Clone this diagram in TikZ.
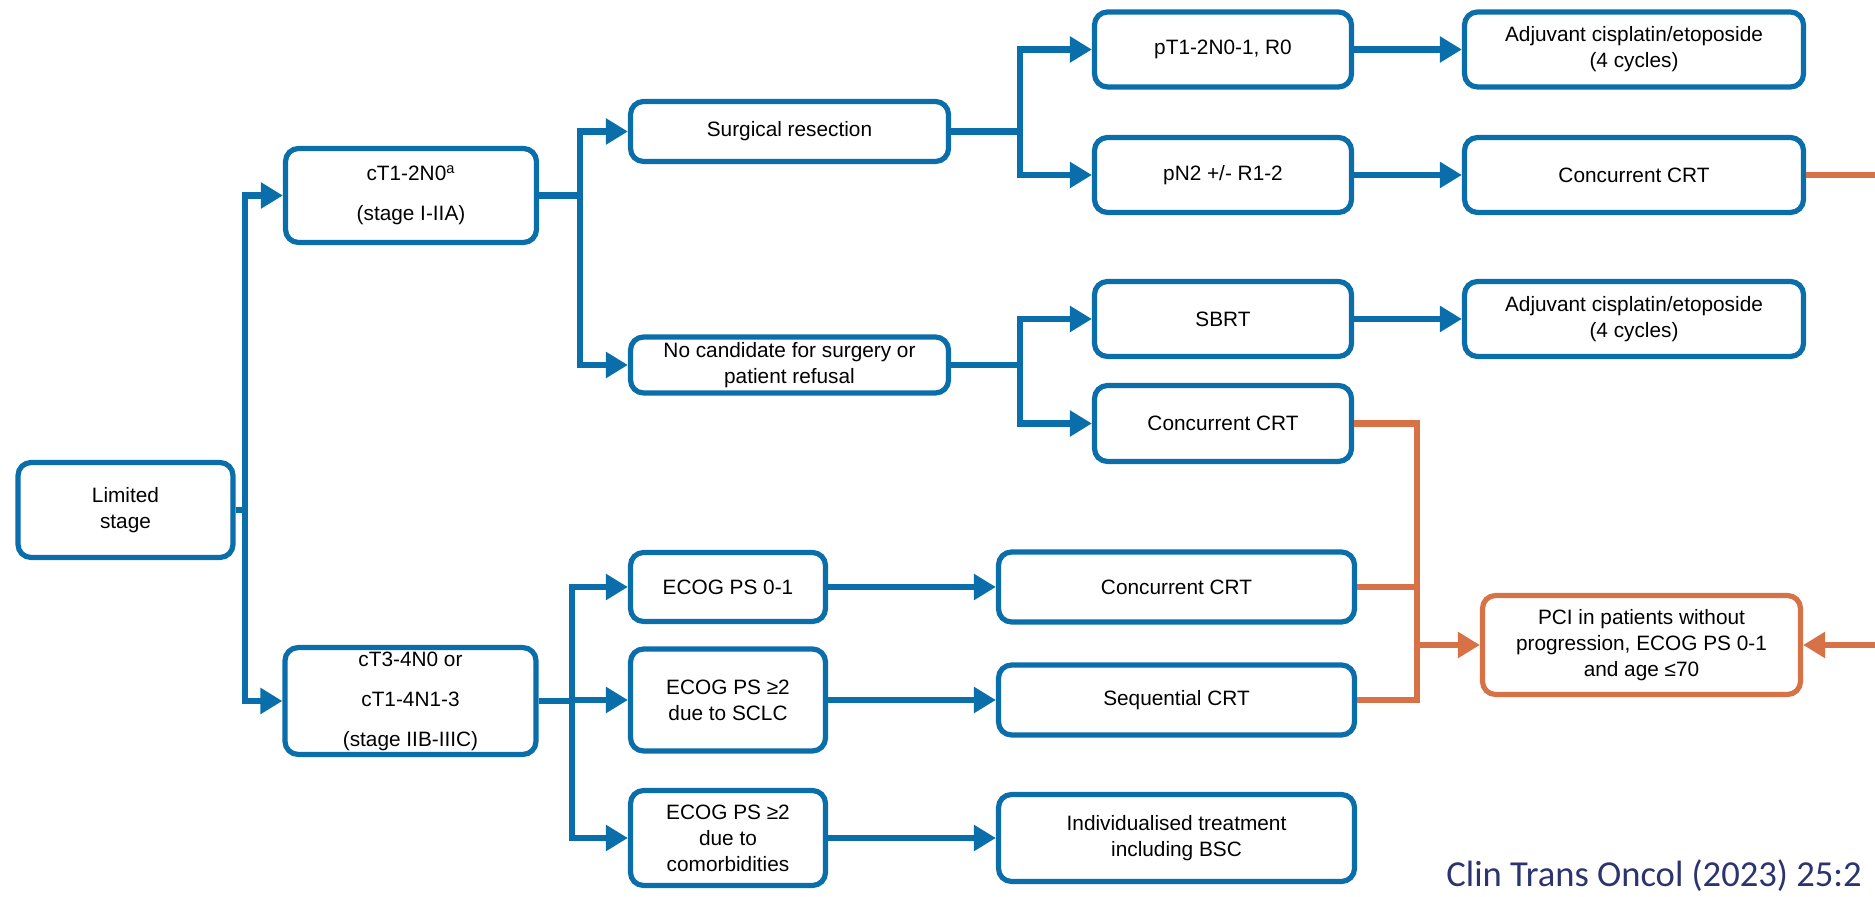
\documentclass[tikz,border=0pt]{standalone}
\usepackage{fontspec}
\setmainfont{Liberation Sans}
\newfontfamily\citefont{Carlito}
\usepackage{xcolor}
\usetikzlibrary{arrows.meta}
\definecolor{sclcblue}{HTML}{0A6EAA}
\definecolor{sclcorange}{HTML}{D67245}
\definecolor{sclcnavy}{HTML}{2C3470}

\begin{document}
\begin{tikzpicture}[x=0.5pt, y=-0.5pt,
  box/.style={rectangle, rounded corners=6.5pt, draw=sclcblue, line width=2.6pt, fill=white,
              align=center, inner sep=2pt, font=\fontsize{10.4}{13}\selectfont},
  stagebox/.style={box, minimum width=125.5pt, font=\fontsize{10.4}{20}\selectfont},
  stepbox/.style={box, minimum width=159pt},
  sidebox/.style={box, minimum width=128.5pt, minimum height=37.5pt},
  adjbox/.style={box, minimum width=169.5pt, minimum height=37.5pt},
  psbox/.style={box, minimum width=97.5pt},
  crtbox/.style={box, minimum width=178pt},
  pcibox/.style={box, draw=sclcorange, minimum width=159pt, minimum height=49.5pt},
  link/.style={sclcblue, line width=3.4pt},
  arr/.style={link, -{Triangle[length=11pt, width=12.5pt]}},
  olink/.style={sclcorange, line width=3.4pt},
  oarr/.style={olink, -{Triangle[length=11pt, width=12.5pt]}}]
  \useasboundingbox (0,0) rectangle (1875,897);
  \node[box, minimum width=107.5pt, minimum height=47.5pt] (limited) at (125.5,510) {Limited\\stage};
  \node[stagebox, minimum height=47pt] (early) at (411,195.5) {cT1-2N0\textsuperscript{a}\\(stage I-IIA)};
  \node[stagebox, minimum height=52.5pt] (adv) at (410.5,701) {cT3-4N0 or\\cT1-4N1-3\\(stage IIB-IIIC)};
  \node[stepbox, minimum height=30pt] (surg) at (789.5,131.5) {Surgical resection};
  \node[stepbox, minimum height=28pt] (nocand) at (789.5,365) {No candidate for surgery or\\patient refusal};
  \node[sidebox] (pr0) at (1223,49.5) {pT1-2N0-1, R0};
  \node[sidebox] (pn2) at (1223,175) {pN2 +/- R1-2};
  \node[sidebox] (sbrt) at (1223,319) {SBRT};
  \node[sidebox, minimum height=38pt] (crtb) at (1223,423.5) {Concurrent CRT};
  \node[adjbox] (adja) at (1634,49.5) {Adjuvant cisplatin/etoposide\\(4 cycles)};
  \node[adjbox] (crta) at (1634,175) {Concurrent CRT};
  \node[adjbox] (adjb) at (1634,319) {Adjuvant cisplatin/etoposide\\(4 cycles)};
  \node[psbox, minimum height=34.5pt] (psgood) at (728,587) {ECOG PS 0-1};
  \node[psbox, minimum height=51pt] (pssclc) at (728,700) {ECOG PS ≥2\\due to SCLC};
  \node[psbox, minimum height=47.5pt] (pscomo) at (728,838) {ECOG PS ≥2\\due to\\comorbidities};
  \node[crtbox, minimum height=35pt] (crtc) at (1176.5,587) {Concurrent CRT};
  \node[crtbox, minimum height=35pt] (seq) at (1176.5,700) {Sequential CRT};
  \node[crtbox, minimum height=43.5pt] (indiv) at (1176.5,838) {Individualised treatment\\including BSC};
  \node[pcibox] (pci) at (1641.5,645) {PCI in patients without\\progression, ECOG PS 0-1\\and age ≤70};
  \node[anchor=base west, inner sep=0pt, text=sclcnavy, font=\citefont\fontsize{18.3}{22}\selectfont] (src) at (1446,886) {Clin Trans Oncol (2023) 25:2};
  \coordinate (j1) at (245,510);
  \coordinate (j2) at (580,195.5);
  \coordinate (j3) at (1020,131.5);
  \coordinate (j4) at (1020,365);
  \coordinate (j5) at (572,701);
  \coordinate (j6) at (1417,645);
  \coordinate (edgea) at (1875,175);
  \coordinate (edgeb) at (1875,645);
  \draw[link] (limited) -- (j1);
  \draw[arr] (j1) |- (early);
  \draw[arr] (j1) |- (adv);
  \draw[link] (early) -- (j2);
  \draw[arr] (j2) |- (surg);
  \draw[arr] (j2) |- (nocand);
  \draw[link] (surg) -- (j3);
  \draw[arr] (j3) |- (pr0);
  \draw[arr] (j3) |- (pn2);
  \draw[link] (nocand) -- (j4);
  \draw[arr] (j4) |- (sbrt);
  \draw[arr] (j4) |- (crtb);
  \draw[arr] (pr0) -- (adja);
  \draw[arr] (pn2) -- (crta);
  \draw[arr] (sbrt) -- (adjb);
  \draw[link] (adv) -- (j5);
  \draw[arr] (j5) |- (psgood);
  \draw[arr] (j5) |- (pssclc);
  \draw[arr] (j5) |- (pscomo);
  \draw[arr] (psgood) -- (crtc);
  \draw[arr] (pssclc) -- (seq);
  \draw[arr] (pscomo) -- (indiv);
  \draw[olink] (crtb) -| (j6);
  \draw[olink] (crtc) -| (j6);
  \draw[olink] (seq) -| (j6);
  \draw[oarr] (j6) -- (pci);
  \draw[olink] (crta) -- (edgea);
  \draw[oarr] (edgeb) -- (pci);
\end{tikzpicture}
\end{document}
